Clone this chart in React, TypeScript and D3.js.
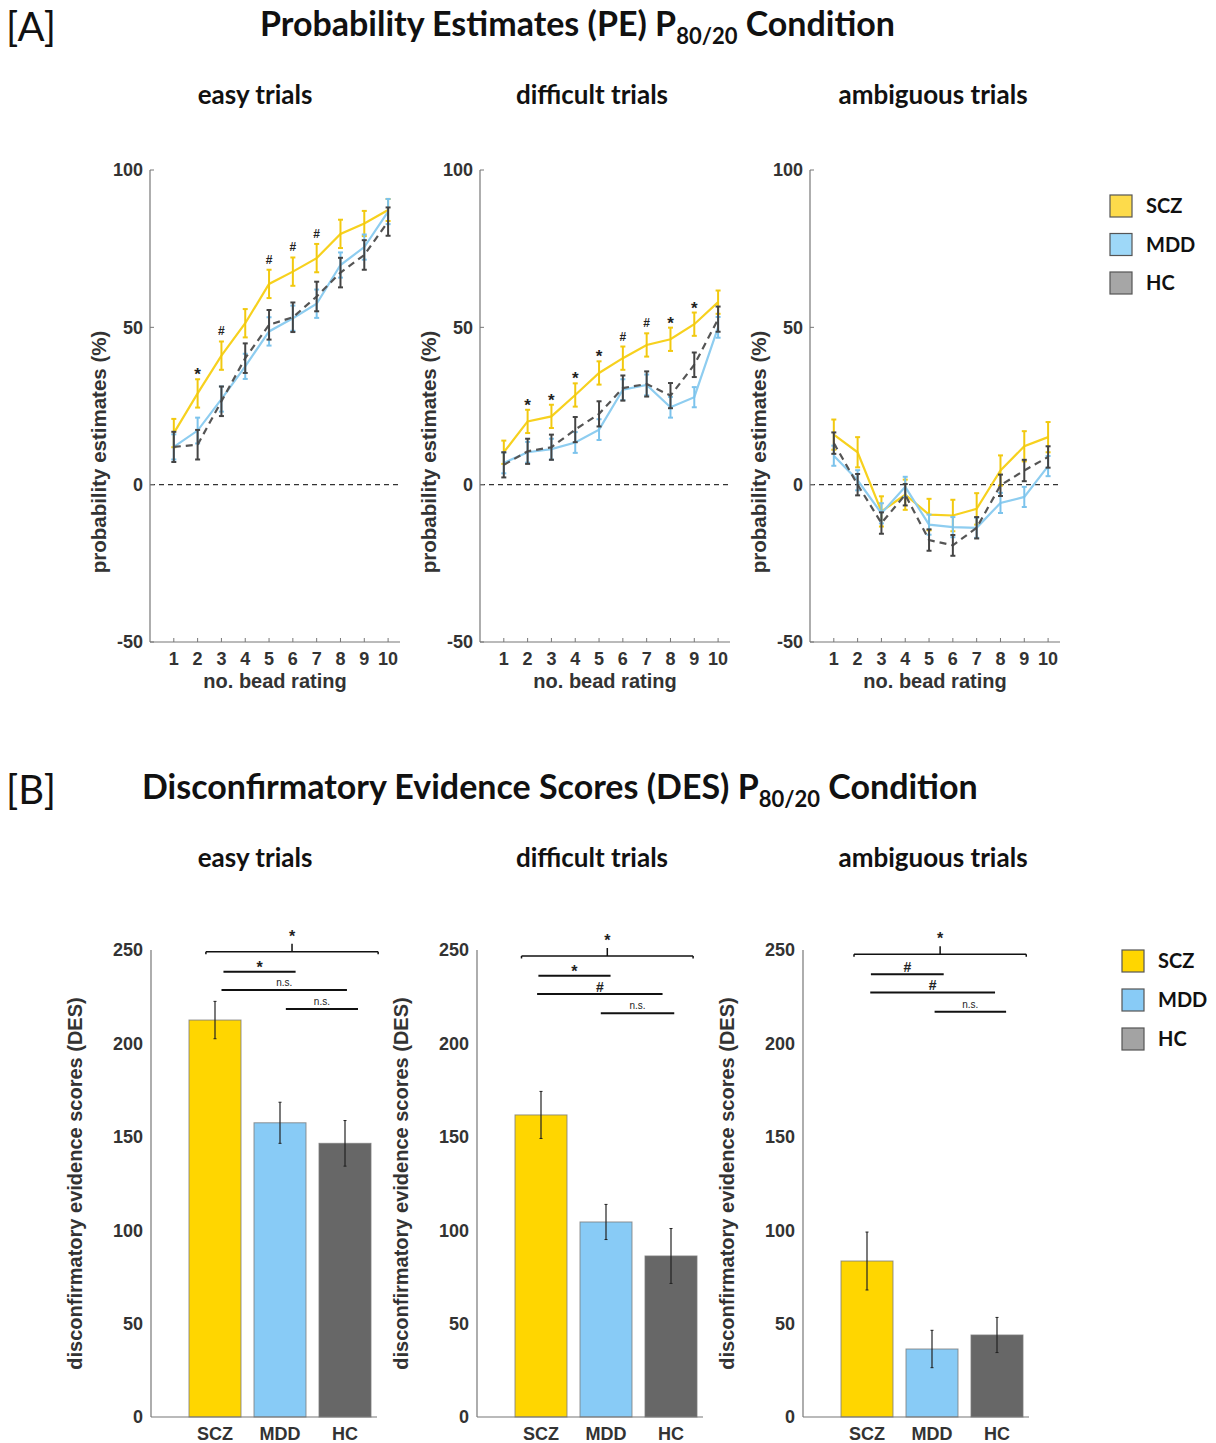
import React from 'react';
import * as d3 from 'd3';

// ---------- categories ----------
const beads = [1, 2, 3, 4, 5, 6, 7, 8, 9, 10];
const groups = ['SCZ', 'MDD', 'HC'];
const conditionTitles = ['easy trials', 'difficult trials', 'ambiguous trials'];
const peTicks = [-50, 0, 50, 100];
const desTicks = [0, 50, 100, 150, 200, 250];

// ---------- Panel A: probability estimates ----------
const peEasySCZ = [16.4, 29, 41, 51.3, 63.8, 67.7, 72, 79.7, 83, 87.3];
const peEasyMDD = [12, 17.2, 27.2, 37.6, 48.7, 52.9, 57.5, 69.8, 75.5, 86.8];
const peEasyHC = [12, 12.7, 26.5, 40.2, 50.8, 53.2, 59.8, 67.4, 73, 83.6];
const peEasyErrSCZ = [4.5, 4.5, 4.5, 4.5, 4.5, 4.5, 4.5, 4.5, 4.0, 3.5];
const peEasyErrMDD = [4.0, 4.1, 4.0, 4.0, 4.5, 4.0, 4.5, 4.0, 4.0, 4.0];
const peEasyErrHC = [4.8, 4.7, 4.7, 4.7, 4.7, 4.7, 4.7, 4.7, 4.7, 4.5];
const peEasySig = ['', '*', '#', '', '#', '#', '#', '', '', ''];

const peDiffSCZ = [10.3, 20.1, 21.7, 28.5, 35.5, 40.2, 44.4, 46.2, 51, 58];
const peDiffMDD = [6.9, 10.3, 11.3, 13.4, 17.5, 30.2, 31.7, 24.6, 27.8, 50];
const peDiffHC = [6.3, 10.6, 11.9, 17.5, 22.5, 30.7, 32, 28.3, 38.1, 52.6];
const peDiffErrSCZ = [3.7, 3.7, 3.7, 3.7, 3.7, 3.7, 3.7, 3.7, 3.7, 3.7];
const peDiffErrMDD = [3.3, 3.3, 3.3, 3.3, 3.3, 3.3, 3.3, 3.3, 3.2, 3.3];
const peDiffErrHC = [4.0, 4.0, 4.0, 4.0, 4.0, 4.0, 4.0, 4.0, 3.9, 4.0];
const peDiffSig = ['', '*', '*', '*', '*', '#', '#', '*', '*', ''];

const peAmbSCZ = [15.9, 10.3, -8.5, -3.2, -9.5, -9.8, -7.7, 4.5, 12.2, 15.1];
const peAmbMDD = [9.2, 1.4, -9.1, -0.7, -12.7, -13.5, -13.7, -5.8, -3.9, 5.9];
const peAmbHC = [13.2, 0, -12.2, -3.2, -17.6, -19.3, -13.7, -0.2, 4.5, 8.8];
const peAmbErrSCZ = [4.8, 4.8, 4.8, 4.8, 5.0, 5.0, 5.0, 4.8, 4.8, 4.8];
const peAmbErrMDD = [3.2, 3.2, 3.2, 3.2, 3.2, 3.2, 3.2, 3.2, 3.2, 3.2];
const peAmbErrHC = [3.4, 3.4, 3.4, 3.4, 3.4, 3.3, 3.4, 3.4, 3.4, 3.4];
const peAmbSig = ['', '', '', '', '', '', '', '', '', ''];

// ---------- Panel B: disconfirmatory evidence scores ----------
const desEasy = [212.5, 157.5, 146.5];
const desEasyErr = [10, 11, 12.2];
const desDiff = [161.7, 104.4, 86.2];
const desDiffErr = [12.6, 9.4, 14.7];
const desAmb = [83.5, 36.4, 43.9];
const desAmbErr = [15.5, 10, 9.4];

// brackets: [from index, to index, level value, label, isTop]
const desEasyBrackets: [number, number, number, string, boolean][] = [
  [-0.14, 2.51, 249, '*', true],
  [0.13, 1.24, 238.4, '*', false],
  [0.1, 2.03, 228.6, 'n.s.', false],
  [1.09, 2.2, 218.4, 'n.s.', false],
];
const desDiffBrackets: [number, number, number, string, boolean][] = [
  [-0.3, 2.34, 246.8, '*', true],
  [-0.04, 1.07, 236.2, '*', false],
  [-0.06, 1.87, 226.4, '#', false],
  [0.92, 2.05, 216.1, 'n.s.', false],
];
const desAmbBrackets: [number, number, number, string, boolean][] = [
  [-0.2, 2.45, 247.7, '*', true],
  [0.06, 1.18, 237, '#', false],
  [0.05, 1.97, 227.3, '#', false],
  [1.04, 2.14, 217, 'n.s.', false],
];

// ---------- styles ----------
const lineColors = ['#F7D11E', '#8ECDF0', '#555555'];
const errColors = ['#F2C90F', '#7CC3EC', '#444444'];
const legendColorsA = ['#FDDB4B', '#9ED8F8', '#A6A6A6'];
const barColors = ['#FFD600', '#88CBF6', '#676767'];
const legendColorsB = ['#FFD600', '#88CBF6', '#A3A3A3'];

const ARIAL = '"Liberation Sans", Arial, sans-serif';
const CAL = 'Lato, "Open Sans", sans-serif';

type PEProps = {
  x0: number;
  series: number[][];
  errs: number[][];
  sig: string[];
};

function PEPlot({ x0, series, errs, sig }: PEProps) {
  const x = d3.scaleLinear().domain([0, 10.5]).range([x0, x0 + 250]);
  const y = d3.scaleLinear().domain([-50, 100]).range([642, 170]);
  const line = d3
    .line<number>()
    .x((_, i) => x(beads[i]))
    .y((v) => y(v));
  const [xl, xr] = x.range();
  return (
    <g>
      {/* zero line */}
      <line x1={xl} x2={xr} y1={y(0)} y2={y(0)} stroke="#333" strokeWidth={1.2} strokeDasharray="5,4" />
      {/* axes */}
      <line x1={xl} x2={xl} y1={y(100)} y2={y(-50)} stroke="#777" strokeWidth={1.2} />
      <line x1={xl} x2={xr} y1={y(-50)} y2={y(-50)} stroke="#777" strokeWidth={1.2} />
      {peTicks.map((t) => (
        <g key={t}>
          <line x1={xl} x2={xl + 4} y1={y(t)} y2={y(t)} stroke="#777" strokeWidth={1} />
          <text x={xl - 7} y={y(t)} dy="0.36em" textAnchor="end" fontFamily={ARIAL} fontWeight="bold" fontSize={18} fill="#333">
            {t}
          </text>
        </g>
      ))}
      {beads.map((b) => (
        <g key={b}>
          <line x1={x(b)} x2={x(b)} y1={y(-50)} y2={y(-50) - 4} stroke="#777" strokeWidth={1} />
          <text x={x(b)} y={665} textAnchor="middle" fontFamily={ARIAL} fontWeight="bold" fontSize={18} fill="#333">
            {b}
          </text>
        </g>
      ))}
      <text x={(xl + xr) / 2} y={688} textAnchor="middle" fontFamily={ARIAL} fontWeight="bold" fontSize={20} fill="#333">
        no. bead rating
      </text>
      <text
        transform={`translate(${xl - 44},${452}) rotate(-90)`}
        textAnchor="middle"
        fontFamily={ARIAL}
        fontWeight="bold"
        fontSize={20.5}
        fill="#333"
      >
        probability estimates (%)
      </text>
      {/* series */}
      {series.map((s, si) => (
        <g key={si}>
          <path
            d={line(s) || ''}
            fill="none"
            stroke={lineColors[si]}
            strokeWidth={2.2}
            strokeDasharray={si === 2 ? '7,5' : undefined}
          />
          {s.map((v, i) => {
            const e = errs[si][i];
            const cx = x(beads[i]);
            return (
              <g key={i} stroke={errColors[si]} strokeWidth={2}>
                <line x1={cx} x2={cx} y1={y(v + e)} y2={y(v - e)} />
                <line x1={cx - 2.5} x2={cx + 2.5} y1={y(v + e)} y2={y(v + e)} />
                <line x1={cx - 2.5} x2={cx + 2.5} y1={y(v - e)} y2={y(v - e)} />
              </g>
            );
          })}
        </g>
      ))}
      {/* significance marks */}
      {sig.map((m, i) => {
        if (!m) return null;
        const top = y(series[0][i] + errs[0][i]);
        const isStar = m === '*';
        return (
          <text
            key={i}
            x={x(beads[i])}
            y={isStar ? top + 1 : top - 6}
            textAnchor="middle"
            fontFamily={ARIAL}
            fontWeight="bold"
            fontSize={isStar ? 17 : 12}
            fill="#222"
          >
            {m}
          </text>
        );
      })}
    </g>
  );
}

type DESProps = {
  x0: number;
  values: number[];
  errs: number[];
  brackets: [number, number, number, string, boolean][];
};

function DESPlot({ x0, values, errs, brackets }: DESProps) {
  const y = d3.scaleLinear().domain([0, 250]).range([1417, 950]);
  const xb = d3.scaleBand<string>().domain(groups).range([x0 + 31.5, x0 + 226.5]).paddingInner(0.2).paddingOuter(0.1);
  const bw = xb.bandwidth();
  const c0 = (xb('SCZ') as number) + bw / 2;
  const idx = d3.scaleLinear().domain([0, 1]).range([c0, c0 + xb.step()]);
  return (
    <g>
      {values.map((v, i) => {
        const bx = xb(groups[i]) as number;
        const cx = bx + bw / 2;
        return (
          <g key={i}>
            <rect x={bx} y={y(v)} width={bw} height={y(0) - y(v)} fill={barColors[i]} stroke="#7a7a7a" strokeOpacity={0.8} strokeWidth={1} />
            <line x1={cx} x2={cx} y1={y(v + errs[i])} y2={y(v - errs[i])} stroke="#222" strokeWidth={1.2} />
            <line x1={cx - 1.5} x2={cx + 1.5} y1={y(v + errs[i])} y2={y(v + errs[i])} stroke="#222" strokeWidth={1} />
            <line x1={cx - 1.5} x2={cx + 1.5} y1={y(v - errs[i])} y2={y(v - errs[i])} stroke="#222" strokeWidth={1} />
            <text x={cx} y={1440} textAnchor="middle" fontFamily={ARIAL} fontWeight="bold" fontSize={18} fill="#333">
              {groups[i]}
            </text>
          </g>
        );
      })}
      <line x1={x0} x2={x0} y1={y(250)} y2={y(0)} stroke="#777" strokeWidth={1.2} />
      <line x1={x0} x2={x0 + 226} y1={y(0)} y2={y(0)} stroke="#777" strokeWidth={1.2} />
      {desTicks.map((t) => (
        <text key={t} x={x0 - 8} y={y(t)} dy="0.36em" textAnchor="end" fontFamily={ARIAL} fontWeight="bold" fontSize={18} fill="#333">
          {t}
        </text>
      ))}
      <text
        transform={`translate(${x0 - 69},${(y(0) + y(250)) / 2}) rotate(-90)`}
        textAnchor="middle"
        fontFamily={ARIAL}
        fontWeight="bold"
        fontSize={20}
        fill="#333"
      >
        disconfirmatory evidence scores (DES)
      </text>
      {brackets.map(([a, b, lv, label, isTop], k) => {
        const x1 = idx(a);
        const x2 = idx(b);
        const ly = y(lv);
        const mid = (x1 + x2) / 2;
        let ty = ly;
        let fs = 14;
        let fw: any = 'bold';
        if (label === '*') {
          fs = 16;
          ty = isTop ? ly - 10 : ly + 1;
        } else if (label === '#') {
          fs = 14;
          ty = ly - 2.5;
        } else {
          fs = 10;
          fw = 'normal';
          ty = ly - 4;
        }
        return (
          <g key={k}>
            <line x1={x1} x2={x2} y1={ly} y2={ly} stroke="#111" strokeWidth={isTop ? 1.5 : 2} />
            {isTop && (
              <>
                <line x1={mid} x2={mid} y1={ly} y2={ly - 8} stroke="#111" strokeWidth={1.5} />
                <line x1={x1} x2={x1} y1={ly} y2={ly + 2.5} stroke="#111" strokeWidth={1.5} />
                <line x1={x2} x2={x2} y1={ly} y2={ly + 2.5} stroke="#111" strokeWidth={1.5} />
              </>
            )}
            <text x={mid} y={ty} textAnchor="middle" fontFamily={ARIAL} fontWeight={fw} fontSize={fs} fill="#222">
              {label}
            </text>
          </g>
        );
      })}
    </g>
  );
}

function Legend({ x, y0, gap, colors, textX }: { x: number; y0: number; gap: number; colors: string[]; textX: number }) {
  return (
    <g>
      {groups.map((g, i) => (
        <g key={g}>
          <rect x={x} y={y0 + i * gap} width={22} height={22} fill={colors[i]} stroke="#555" strokeWidth={1.2} />
          <text x={textX} y={y0 + i * gap + 11} dy="0.36em" fontFamily={CAL} fontWeight="bold" fontSize={20} fill="#111">
            {g}
          </text>
        </g>
      ))}
    </g>
  );
}

function Title({ x, y, main, rest }: { x: number; y: number; main: string; rest: string }) {
  return (
    <text x={x} y={y} fontFamily={CAL} fontWeight="bold" fontSize={34} fill="#111">
      {main}
      <tspan fontSize={22} dy={8}>80/20</tspan>
      <tspan dy={-8}>{rest}</tspan>
    </text>
  );
}

export default function App() {
  const peXs = [150, 480, 810];
  const desXs = [151, 477, 803];
  const titleXs = [255, 592, 933];
  const peData = [
    { series: [peEasySCZ, peEasyMDD, peEasyHC], errs: [peEasyErrSCZ, peEasyErrMDD, peEasyErrHC], sig: peEasySig },
    { series: [peDiffSCZ, peDiffMDD, peDiffHC], errs: [peDiffErrSCZ, peDiffErrMDD, peDiffErrHC], sig: peDiffSig },
    { series: [peAmbSCZ, peAmbMDD, peAmbHC], errs: [peAmbErrSCZ, peAmbErrMDD, peAmbErrHC], sig: peAmbSig },
  ];
  const desData = [
    { values: desEasy, errs: desEasyErr, brackets: desEasyBrackets },
    { values: desDiff, errs: desDiffErr, brackets: desDiffBrackets },
    { values: desAmb, errs: desAmbErr, brackets: desAmbBrackets },
  ];
  return (
    <svg
      width={1216}
      height={1443}
      style={{ position: 'absolute', left: 0, top: 0, background: '#fff' }}
    >
      <rect x={0} y={0} width={1216} height={1443} fill="#fff" />
      <text x={6} y={41} fontFamily={CAL} fontSize={40} fill="#111">[A]</text>
      <Title x={260} y={36} main="Probability Estimates (PE) P" rest=" Condition" />
      {conditionTitles.map((t, i) => (
        <text key={t} x={titleXs[i]} y={104} textAnchor="middle" fontFamily={CAL} fontWeight="bold" fontSize={26} fill="#111">
          {t}
        </text>
      ))}
      {peData.map((d, i) => (
        <PEPlot key={i} x0={peXs[i]} series={d.series} errs={d.errs} sig={d.sig} />
      ))}
      <Legend x={1110} y0={195} gap={38.5} colors={legendColorsA} textX={1146} />

      <text x={6} y={804} fontFamily={CAL} fontSize={40} fill="#111">[B]</text>
      <Title x={142} y={799} main="Disconfirmatory Evidence Scores (DES) P" rest=" Condition" />
      {conditionTitles.map((t, i) => (
        <text key={t} x={titleXs[i]} y={867} textAnchor="middle" fontFamily={CAL} fontWeight="bold" fontSize={26} fill="#111">
          {t}
        </text>
      ))}
      {desData.map((d, i) => (
        <DESPlot key={i} x0={desXs[i]} values={d.values} errs={d.errs} brackets={d.brackets} />
      ))}
      <Legend x={1122} y0={950} gap={39} colors={legendColorsB} textX={1158} />
    </svg>
  );
}
